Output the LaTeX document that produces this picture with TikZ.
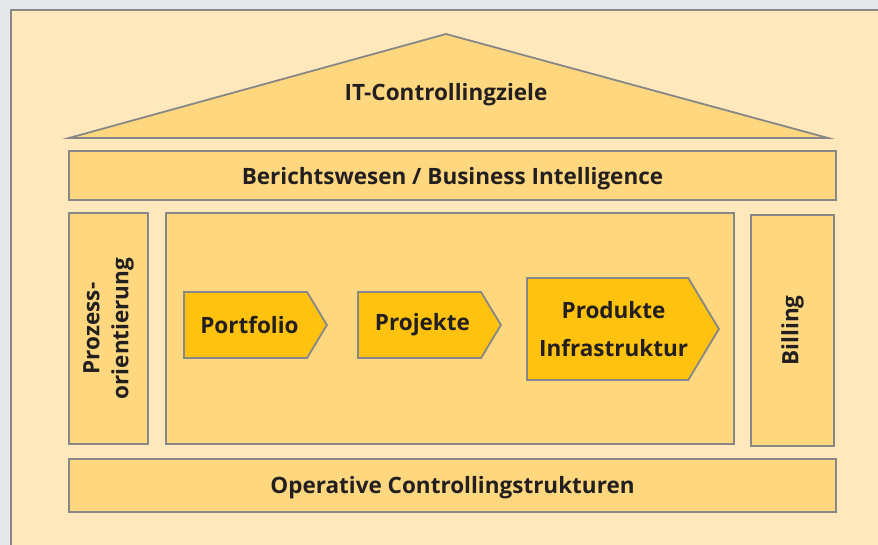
\documentclass[tikz,border=0pt]{standalone}
\usepackage{fontspec}
\setmainfont{Open Sans}
\usepackage{tikz}
\usetikzlibrary{positioning,shapes.symbols}

\definecolor{pagegrey}{HTML}{E6E7E9}
\definecolor{framefill}{HTML}{FEE8BC}
\definecolor{boxfill}{HTML}{FED77F}
\definecolor{stepfill}{HTML}{FFC20E}
\definecolor{linegrey}{HTML}{878787}
\definecolor{textdark}{HTML}{231F20}

\tikzset{
  labeltext/.style={font=\bfseries\fontsize{22.5}{29}\selectfont,text=textdark},
  housebox/.style={draw=linegrey,line width=1.8pt,fill=boxfill,inner sep=0pt,labeltext,text depth=0pt},
  stepbox/.style={draw=linegrey,line width=1.8pt,fill=stepfill,shape=signal,
    signal to=east,signal pointer angle=118,inner sep=0pt,anchor=west,
    labeltext,align=center}
}

\begin{document}
\begin{tikzpicture}[x=1pt,y=-1pt]
        \useasboundingbox (0,0) rectangle (878,545);
        \fill[pagegrey] (0,0) rectangle (878,545);
        \draw[linegrey,line width=1.8pt,fill=framefill] (11,10) rectangle (900,570);
        % roof
        \coordinate (roofl) at (69,138);
        \coordinate (roofr) at (828,138);
        \coordinate (rooftop) at (446,34);
        \draw[linegrey,line width=1.8pt,fill=boxfill,line join=miter] (roofl) -- (rooftop) -- (roofr) -- cycle;
        \node[labeltext,text depth=0pt] (goals) at (446,92) {IT-Controllingziele};
        % bars and pillars
        \node[housebox,minimum width=767pt,minimum height=49pt] (report) at (452.5,175.5) {Berichtswesen / Business Intelligence};
        \node[housebox,minimum width=79pt,minimum height=231pt] (process) at (108.5,328.5) {};
        \node[labeltext,rotate=90,align=center] (processtext) at (process.center) {Prozess-\\orientierung};
        \node[housebox,minimum width=568pt,minimum height=231pt] (core) at (450,328.5) {};
        \node[housebox,minimum width=83pt,minimum height=231pt] (billing) at (792.5,330.5) {};
        \node[labeltext,rotate=90] (billingtext) at (billing.center) {Billing};
        \node[housebox,minimum width=767pt,minimum height=53pt,text depth=2pt] (operative) at (452.5,485.5) {Operative Controllingstrukturen};
        % process steps
        \node[stepbox,minimum width=143pt,minimum height=66pt] (portfolio) at (183,325) {\hspace*{8pt}Portfolio};
        \node[stepbox,minimum width=143pt,minimum height=66pt] (projects) at (357,325) {\hspace*{6pt}Projekte};
        \node[stepbox,minimum width=192pt,minimum height=102pt,font=\bfseries\fontsize{22.5}{38}\selectfont] (products) at (526,329) {\hspace*{12pt}Produkte\\\hspace*{12pt}Infrastruktur};
\end{tikzpicture}
\end{document}
